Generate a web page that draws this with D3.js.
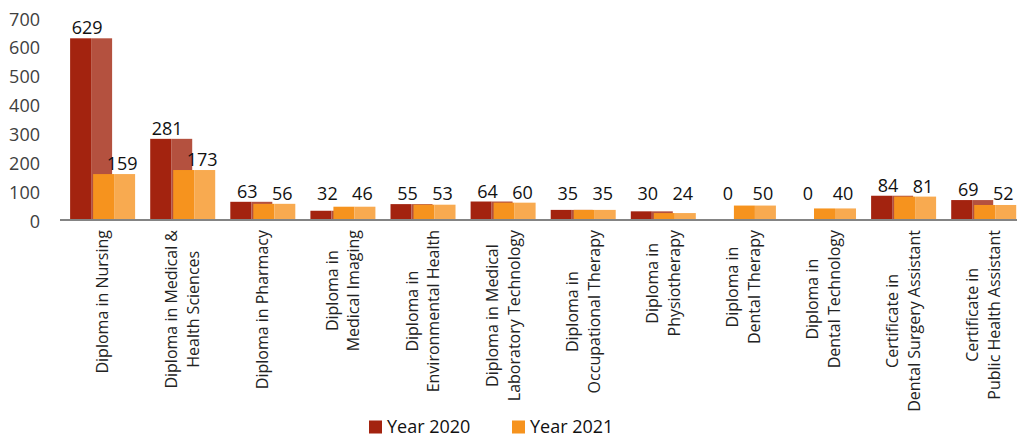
<!DOCTYPE html>
<html>
<head>
<meta charset="utf-8">
<script src="https://cdn.jsdelivr.net/npm/d3@7"></script>
<style>
	body { margin: 0; background: #fff; }
	svg { display: block; font-family: "Open Sans", sans-serif; }
</style>
</head>
<body>
<svg id="chart" width="1017" height="437"></svg>
<script>
// programme names, one entry per line of the axis label
const categories = [
	["Diploma in Nursing"],
	["Diploma in Medical &", "Health Sciences"],
	["Diploma in Pharmacy"],
	["Diploma in", "Medical Imaging"],
	["Diploma in", "Environmental Health"],
	["Diploma in Medical", "Laboratory Technology"],
	["Diploma in", "Occupational Therapy"],
	["Diploma in", "Physiotherapy"],
	["Diploma in", "Dental Therapy"],
	["Diploma in", "Dental Technology"],
	["Certificate in", "Dental Surgery Assistant"],
	["Certificate in", "Public Health Assistant"]
]
const year2020 = [629, 281, 63, 32, 55, 64, 35, 30, 0, 0, 84, 69]
const year2021 = [159, 173, 56, 46, 53, 60, 35, 24, 50, 40, 81, 52]
const yTicks = [0, 100, 200, 300, 400, 500, 600, 700]
const seriesNames = ["Year 2020", "Year 2021"]

const colors = {
	red: "#A3230F",
	redSide: "#B4513F",
	orange: "#F6931E",
	orangeSide: "#F8AA50"
}

const svg = d3.select("#chart")
const baseY = 220
const barW = 42
const seriesShift = 23

const keys = categories.map(c => c.join(" "))
const x = d3.scaleBand()
	.domain(keys)
	.range([62.5, 1023.7])
	.paddingInner(0.19)
	.paddingOuter(0.095)

const y = d3.scaleLinear().domain([0, 700]).range([baseY, 17.8])

// y tick labels (no axis line)
svg.append("g")
	.selectAll("text")
	.data(yTicks)
	.join("text")
	.attr("x", 40)
	.attr("y", d => y(d) + 1.5)
	.attr("dy", "0.35em")
	.attr("text-anchor", "end")
	.attr("font-size", 18)
	.attr("fill", "#404040")
	.text(d => d)

const series = [
	{ values: year2020, front: colors.red, side: colors.redSide, shift: 0, labelDx: -4 },
	{ values: year2021, front: colors.orange, side: colors.orangeSide, shift: seriesShift, labelDx: 8 }
]

const bars = svg.append("g")
series.forEach(s => {
	const g = bars.append("g")
	const rows = keys.map((k, i) => ({ key: k, value: s.values[i] }))
	g.selectAll(".front")
		.data(rows.filter(d => d.value > 0))
		.join("rect")
		.attr("class", "front")
		.attr("x", d => x(d.key) + s.shift)
		.attr("y", d => y(d.value))
		.attr("width", barW / 2)
		.attr("height", d => baseY - y(d.value))
		.attr("fill", s.front)
	g.selectAll(".side")
		.data(rows.filter(d => d.value > 0))
		.join("rect")
		.attr("class", "side")
		.attr("x", d => x(d.key) + s.shift + barW / 2)
		.attr("y", d => y(d.value))
		.attr("width", barW / 2)
		.attr("height", d => baseY - y(d.value))
		.attr("fill", s.side)
})

// value labels
series.forEach(s => {
	svg.append("g")
		.selectAll("text")
		.data(keys.map((k, i) => ({ key: k, value: s.values[i] })))
		.join("text")
		.attr("x", d => x(d.key) + s.shift + barW / 2 + s.labelDx)
		.attr("y", d => Math.min(y(d.value) - 4, 200))
		.attr("text-anchor", "middle")
		.attr("font-size", 18)
		.attr("fill", "#111")
		.text(d => d.value)
})

// baseline
svg.append("line")
	.attr("x1", 60)
	.attr("x2", 1017)
	.attr("y1", baseY)
	.attr("y2", baseY)
	.attr("stroke", "#848484")
	.attr("stroke-width", 2)

// category labels, rotated, lines centred on each other
const lineH = 21.7
categories.forEach((lines, i) => {
	const cx = x(keys[i]) + x.bandwidth() / 2
	const t = svg.append("text")
		.attr("font-size", 16)
		.attr("fill", "#222")
		.attr("text-anchor", "middle")
	lines.forEach((ln, j) => {
		t.append("tspan")
			.attr("x", 0)
			.attr("y", (j - (lines.length - 1) / 2) * lineH)
			.attr("dy", "0.35em")
			.text(ln)
	})
	const maxLen = d3.max(t.selectAll("tspan").nodes(), n => n.getComputedTextLength())
	t.attr("transform", `translate(${cx},${230 + maxLen / 2}) rotate(-90)`)
})

// legend
const legend = svg.append("g")
const legendX = [369, 512]
seriesNames.forEach((name, i) => {
	legend.append("rect")
		.attr("x", legendX[i])
		.attr("y", 420.5)
		.attr("width", 13)
		.attr("height", 13)
		.attr("fill", series[i].front)
	legend.append("text")
		.attr("x", legendX[i] + 18)
		.attr("y", 433)
		.attr("font-size", 18)
		.attr("fill", "#111")
		.text(name)
})
</script>
</body>
</html>
